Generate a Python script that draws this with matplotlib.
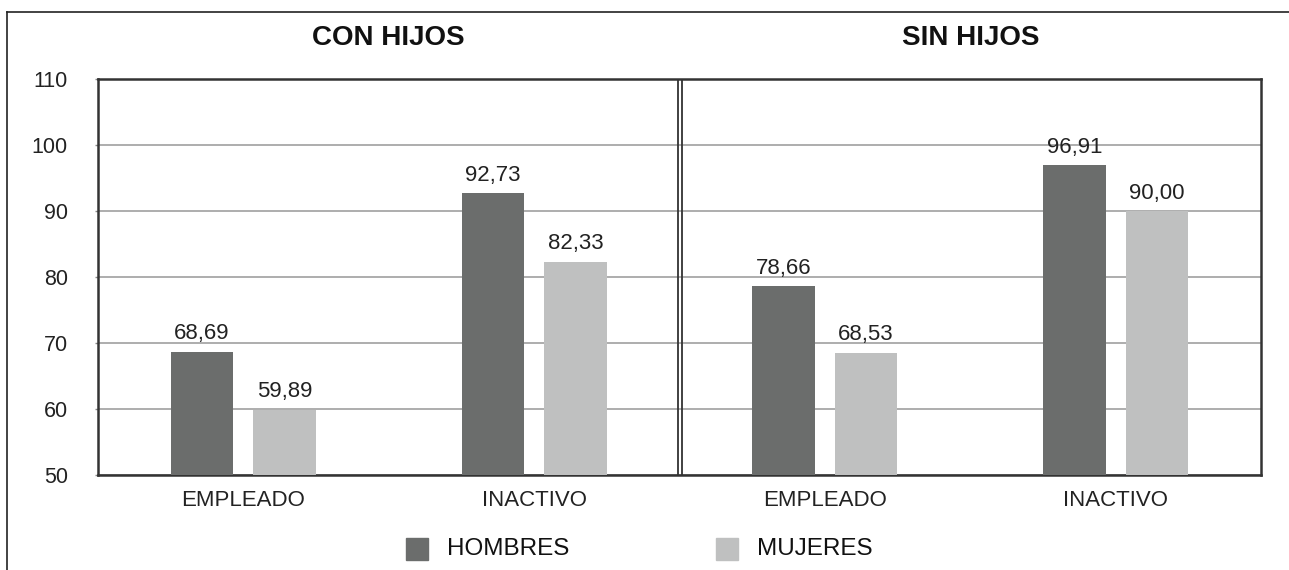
import matplotlib.pyplot as plt
from matplotlib.lines import Line2D

plt.rcParams['font.family'] = ['Liberation Sans', 'DejaVu Sans']

# data
categories = ['EMPLEADO', 'INACTIVO', 'EMPLEADO', 'INACTIVO']
panels = ['CON HIJOS', 'SIN HIJOS']
hombres = [68.69, 92.73, 78.66, 96.91]
mujeres = [59.89, 82.33, 68.53, 90.00]
yticks = [50, 60, 70, 80, 90, 100, 110]

dark = '#6b6d6c'
light = '#bfc0c0'

fig = plt.figure(figsize=(12.89, 5.70), dpi=100, facecolor='white')
W, H = 1289, 570
ax = fig.add_axes([98 / W, 1 - 475 / H, (1261 - 98) / W, (475 - 79) / H])

x = list(range(len(categories)))
bw = 0.215
off = 0.142
ax.bar([i - off for i in x], [v - 50 for v in hombres], bottom=50, width=bw,
       color=dark, zorder=3)
ax.bar([i + off for i in x], [v - 50 for v in mujeres], bottom=50, width=bw,
       color=light, zorder=3)

def fmt(v):
    return f'{v:.2f}'.replace('.', ',')

for i in x:
    ax.text(i - off, hombres[i] + 1.1, fmt(hombres[i]), ha='center', va='bottom',
            fontsize=16, color='#222222')
    ax.text(i + off, mujeres[i] + 1.1, fmt(mujeres[i]), ha='center', va='bottom',
            fontsize=16, color='#222222')

ax.set_xlim(-0.5, 3.5)
ax.set_ylim(50, 110)
ax.set_yticks(yticks)
ax.set_yticklabels([str(t) for t in yticks], fontsize=15.5, color='#222222')
ax.set_xticks(x)
ax.set_xticklabels(categories, fontsize=16, color='#222222')
ax.tick_params(axis='x', length=0, pad=11)
ax.tick_params(axis='y', length=2.2, width=1, color='#888888', pad=19.5)

ax.yaxis.grid(True, color='#a0a0a0', linewidth=1.2, zorder=0)
for s in ax.spines.values():
    s.set_color('#333333')
    s.set_linewidth(1.8)

# double divider between panels
ax.axvline(1.5 - 0.004, color='#333333', linewidth=1.3, zorder=4)
ax.axvline(1.5 + 0.008, color='#333333', linewidth=1.3, zorder=4)

# panel titles
ax.text(0.5, 1.1035, panels[0], transform=ax.get_xaxis_transform(), ha='center',
        va='center', fontsize=20, fontweight='bold', color='#111111')
ax.text(2.5, 1.1035, panels[1], transform=ax.get_xaxis_transform(), ha='center',
        va='center', fontsize=20, fontweight='bold', color='#111111')

# legend
leg_y = 1 - 549 / H
fig.patches.append(plt.Rectangle((406 / W, leg_y - 11 / H), 22 / W, 22 / H,
                                 transform=fig.transFigure, color=dark))
fig.text(447 / W, leg_y, 'HOMBRES', ha='left', va='center', fontsize=17.5, color='#111111')
fig.patches.append(plt.Rectangle((716 / W, leg_y - 11 / H), 22 / W, 22 / H,
                                 transform=fig.transFigure, color=light))
fig.text(757 / W, leg_y, 'MUJERES', ha='left', va='center', fontsize=17.5, color='#111111')

# outer frame
fig.add_artist(Line2D([7 / W, 7 / W], [0, 1 - 12 / H], color='#222222', linewidth=1.2))
fig.add_artist(Line2D([7 / W, 1], [1 - 12 / H, 1 - 12 / H], color='#222222', linewidth=1.2))

fig.savefig('out.png', dpi=100, facecolor='white')
